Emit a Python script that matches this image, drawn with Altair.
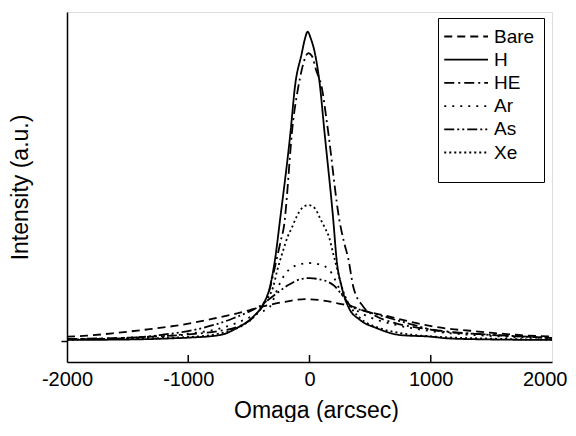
import altair as alt
import pandas as pd

series_names = ["Bare", "H", "HE", "Ar", "As", "Xe"]

bare_x = [-2000, -1837, -1579, -1316, -1054, -779, -631, -491, -394, -202, -37, 114, 224, 361, 416, 637, 884, 1035, 1173, 1324, 1489, 1626, 1761, 2000]
bare_y = [0.013, 0.016, 0.025, 0.036, 0.049, 0.069, 0.081, 0.094, 0.104, 0.119, 0.127, 0.123, 0.115, 0.104, 0.096, 0.076, 0.054, 0.043, 0.036, 0.031, 0.025, 0.021, 0.017, 0.014]

h_x = [-2000, -1400, -1130, -1000, -737, -600, -463, -386, -326, -285, -243, -155, -120, -64, -40, -15, 10, 45, 87, 122, 196, 224, 265, 320, 416, 554, 746, 1000, 1131, 1406, 2000]
h_y = [0.003, 0.005, 0.008, 0.010, 0.018, 0.039, 0.074, 0.109, 0.165, 0.246, 0.368, 0.641, 0.773, 0.874, 0.915, 0.94, 0.92, 0.874, 0.773, 0.641, 0.368, 0.246, 0.165, 0.104, 0.064, 0.039, 0.018, 0.013, 0.008, 0.005, 0.003]

he_x = [-2000, -1500, -1000, -750, -600, -463, -386, -326, -285, -229, -216, -134, -92, -64, -35, -10, 20, 54, 100, 147, 250, 285, 320, 361, 444, 550, 700, 1000, 1500, 2000]
he_y = [0.006, 0.010, 0.020, 0.030, 0.042, 0.072, 0.107, 0.160, 0.225, 0.317, 0.337, 0.672, 0.773, 0.824, 0.862, 0.875, 0.866, 0.824, 0.773, 0.655, 0.360, 0.300, 0.250, 0.165, 0.104, 0.075, 0.055, 0.035, 0.018, 0.010]

ar_x = [-2000, -1500, -1000, -700, -600, -420, -326, -299, -257, -216, -120, 0, 120, 183, 238, 293, 360, 450, 700, 1000, 1500, 2000]
ar_y = [0.005, 0.010, 0.022, 0.042, 0.055, 0.085, 0.104, 0.125, 0.165, 0.195, 0.228, 0.237, 0.228, 0.206, 0.165, 0.125, 0.100, 0.080, 0.050, 0.030, 0.015, 0.008]

as_x = [-2000, -1508, -1233, -958, -628, -394, -270, -175, -60, 0, 60, 196, 279, 348, 472, 664, 856, 1021, 1186, 1406, 1681, 2000]
as_y = [0.005, 0.008, 0.018, 0.033, 0.069, 0.110, 0.145, 0.170, 0.189, 0.191, 0.189, 0.170, 0.135, 0.104, 0.090, 0.069, 0.049, 0.033, 0.025, 0.021, 0.015, 0.009]

xe_x = [-2000, -1500, -1000, -750, -600, -463, -353, -299, -265, -225, -180, -147, -106, -64, -10, 45, 87, 128, 160, 195, 230, 265, 307, 416, 554, 750, 1000, 1500, 2000]
xe_y = [0.004, 0.007, 0.012, 0.022, 0.038, 0.072, 0.125, 0.165, 0.216, 0.266, 0.317, 0.343, 0.378, 0.403, 0.413, 0.403, 0.373, 0.343, 0.317, 0.266, 0.216, 0.165, 0.125, 0.070, 0.042, 0.024, 0.014, 0.007, 0.004]

x_ticks = [-2000, -1000, 0, 1000, 2000]
inner_ticks = [-1000, 0, 1000]

dash_styles = [[8, 5], [1, 0], [10, 4, 2, 4], [2, 6], [10, 3, 2, 3, 2, 3], [2, 3]]

rows = []
for name, xs, ys in [("Bare", bare_x, bare_y), ("H", h_x, h_y), ("HE", he_x, he_y),
                     ("Ar", ar_x, ar_y), ("As", as_x, as_y), ("Xe", xe_x, xe_y)]:
    for i, (xv, yv) in enumerate(zip(xs, ys)):
        rows.append({"series": name, "omega": xv, "intensity": yv, "order": i})
df = pd.DataFrame(rows)

FONT = "Liberation Sans"

xscale = alt.Scale(domain=[-2000, 2000], nice=False)
yscale = alt.Scale(domain=[-0.064, 1.0], nice=False, zero=False)

lines = alt.Chart(df).mark_line(color="black", strokeWidth=1.8, interpolate="monotone").encode(
    x=alt.X("omega:Q", scale=xscale,
            axis=alt.Axis(values=x_ticks, title="Omaga (arcsec)", grid=False,
                          labelExpr="'' + datum.value",
                          labelAlign=alt.condition("datum.value == 2000", alt.value("right"), alt.value("center")),
                          labelOffset=alt.condition("datum.value == 2000", alt.value(15), alt.value(0)),
                          labelFontSize=20, titleFontSize=23, titleFontWeight="normal",
                          labelFont=FONT, titleFont=FONT, labelColor="black", titleColor="black",
                          domainColor="black", domainWidth=1.5, tickOpacity=0, tickSize=5,
                          labelPadding=2, titlePadding=10, labelFlush=False, titleX=249)),
    y=alt.Y("intensity:Q", scale=yscale,
            axis=alt.Axis(values=[0], labels=False, title="Intensity (a.u.)", grid=False,
                          titleFontSize=23, titleFontWeight="normal", titleFont=FONT,
                          titleColor="black", domainColor="black", domainWidth=1.5,
                          tickColor="black", tickSize=6, tickWidth=1.5, titlePadding=28)),
    strokeDash=alt.StrokeDash("series:N", scale=alt.Scale(domain=series_names, range=dash_styles),
                              legend=alt.Legend(title="\u00a0", titleOrient="bottom", orient="none",
                                                legendX=371, legendY=6, symbolType="M-1.75,0H4.5",
                                                symbolSize=196, symbolStrokeWidth=1.8,
                                                symbolStrokeColor="black", symbolFillColor="transparent",
                                                labelFontSize=19,
                                                labelFont=FONT, labelColor="black", labelOffset=28,
                                                strokeColor="black", fillColor="white", padding=9,
                                                rowPadding=3.2, titleFontSize=8, titlePadding=2)),
    order="order:Q",
    detail="series:N",
)

ticks = alt.Chart(pd.DataFrame({"t": inner_ticks})).mark_rule(color="black", strokeWidth=1.5).encode(
    x=alt.X("t:Q", scale=xscale),
    y=alt.value(350),
    y2=alt.value(343),
)

chart = alt.layer(lines, ticks).properties(
    width=485, height=350,
    autosize=alt.AutoSizeParams(type="none"),
    padding={"left": 59, "top": 4, "right": 16, "bottom": 60},
).configure_view(stroke="black", strokeWidth=1.5).configure(background="white")

chart.save("out.html", embed_options={"renderer": "svg", "actions": False})
